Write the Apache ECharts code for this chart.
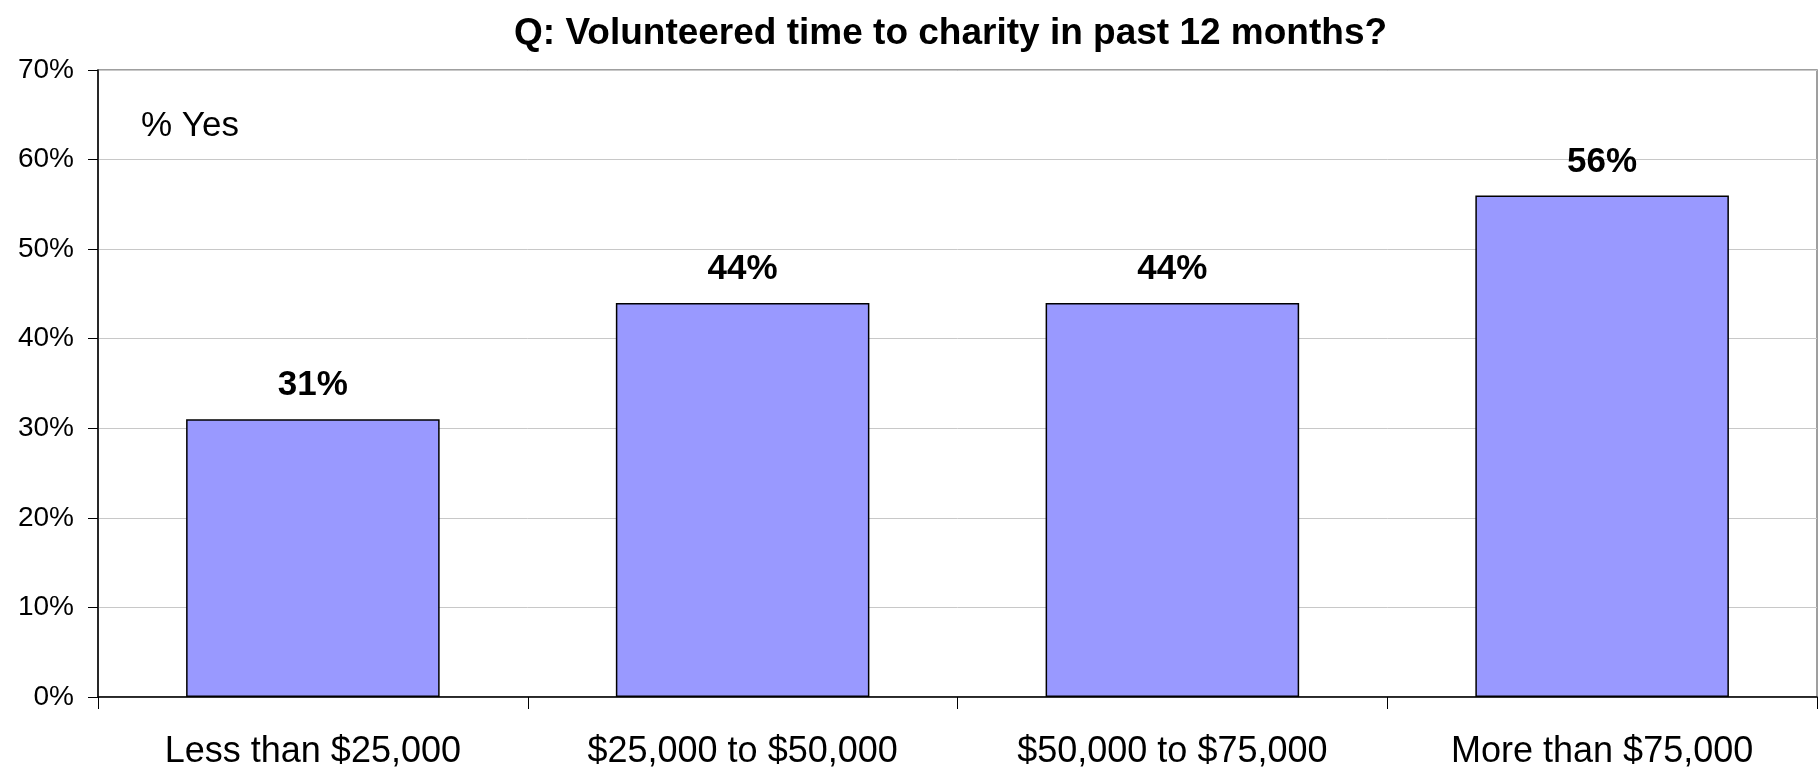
<!DOCTYPE html>
<html>
<head>
<meta charset="utf-8">
<script src="https://cdn.jsdelivr.net/npm/echarts@6/dist/echarts.min.js"></script>
<style>
  html, body { margin: 0; padding: 0; background: #fff; }
  #chart { width: 1818px; height: 770px; }
</style>
</head>
<body>
<div id="chart"></div>
<script>
// income groups and share answering "yes"
const categories = ['Less than $25,000', '$25,000 to $50,000', '$50,000 to $75,000', 'More than $75,000'];
const yesPct = [31, 44, 44, 56];

const chart = echarts.init(document.getElementById('chart'));
const font = 'Liberation Sans, Arial, sans-serif';

chart.setOption({
  animation: false,
  title: [
    {
      text: 'Q: Volunteered time to charity in past 12 months?',
      left: 514,
      top: 15,
      padding: 0,
      textStyle: { fontFamily: font, fontSize: 37, fontWeight: 'bold', color: '#000' }
    },
    {
      text: '% Yes',
      left: 141,
      top: 109,
      padding: 0,
      textStyle: { fontFamily: font, fontSize: 35, fontWeight: 'normal', color: '#000' }
    }
  ],
  grid: {
    left: 98,
    right: 1,
    top: 70,
    bottom: 70,
    show: true,
    borderColor: '#808080',
    borderWidth: 1.5,
    backgroundColor: '#fff'
  },
  xAxis: {
    type: 'category',
    data: categories,
    axisLine: { lineStyle: { color: '#000', width: 1.5 } },
    axisTick: { show: true, length: 12, lineStyle: { color: '#000', width: 1 } },
    axisLabel: { fontFamily: font, fontSize: 36, color: '#000', margin: 37, interval: 0 }
  },
  yAxis: {
    type: 'value',
    min: 0,
    max: 70,
    interval: 10,
    axisLine: { show: true, lineStyle: { color: '#000', width: 1.5 } },
    axisTick: { show: true, length: 10, lineStyle: { color: '#000' } },
    axisLabel: { fontFamily: font, fontSize: 28, color: '#000', margin: 24, formatter: '{value}%' },
    splitLine: { lineStyle: { color: '#c8c8c8', width: 1 } }
  },
  series: [
    {
      type: 'bar',
      data: yesPct,
      barCategoryGap: '41%',
      itemStyle: { color: '#9999ff', borderColor: '#000', borderWidth: 1.5 },
      label: {
        show: true,
        position: 'top',
        distance: 16,
        formatter: '{c}%',
        fontFamily: font,
        fontSize: 35,
        fontWeight: 'bold',
        color: '#000'
      }
    }
  ]
});
</script>
</body>
</html>
